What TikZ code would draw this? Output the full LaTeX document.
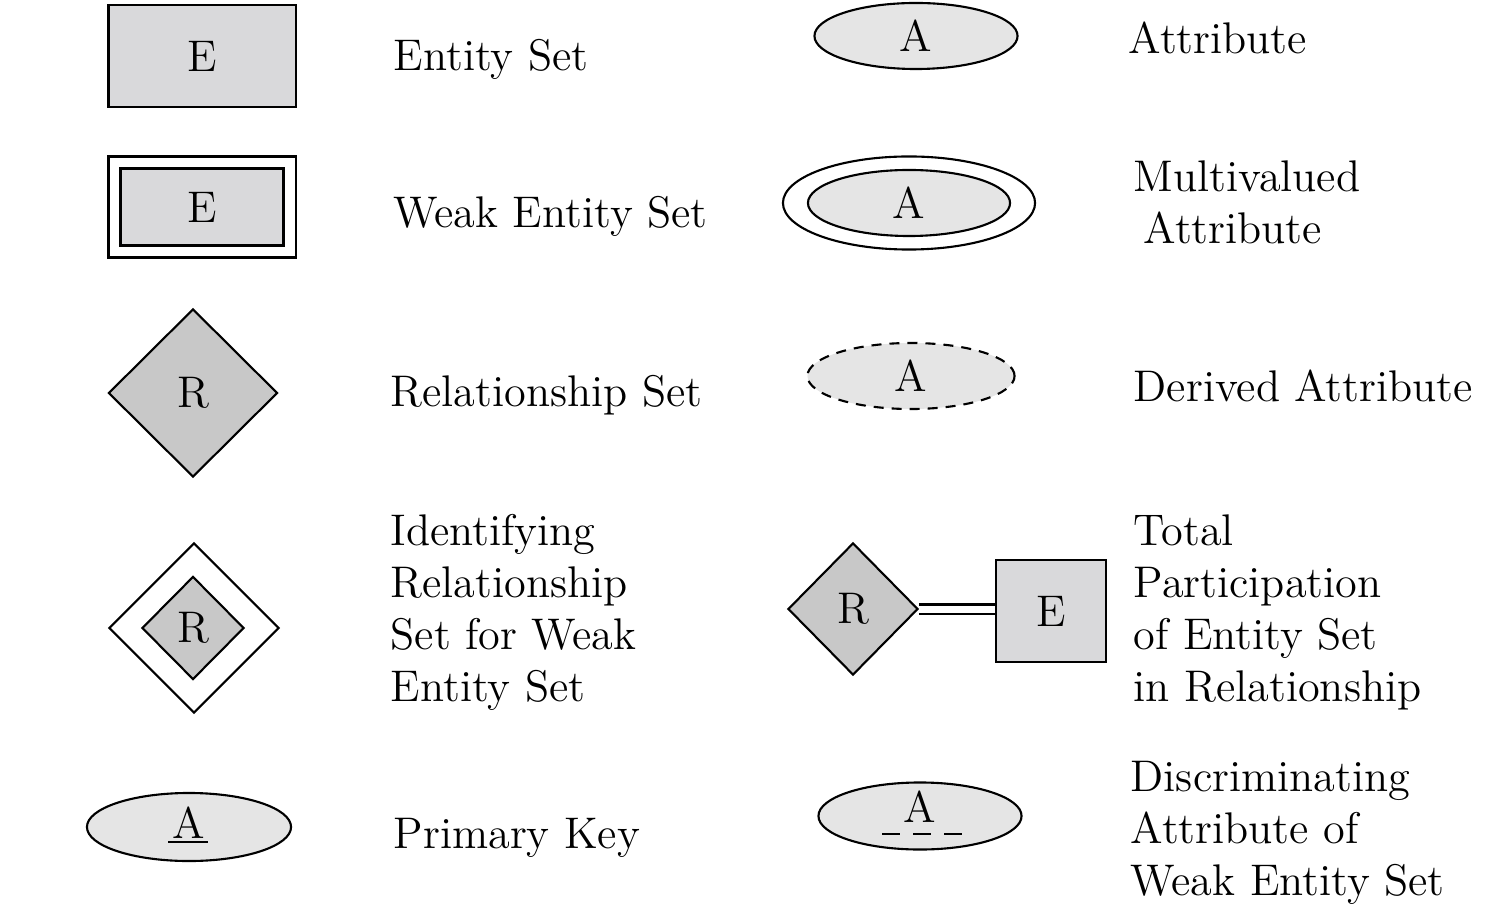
\documentclass[tikz,border=0pt]{standalone}
\usetikzlibrary{shapes.geometric}

\definecolor{entityfill}{RGB}{217,217,219}
\definecolor{relfill}{RGB}{200,200,200}
\definecolor{attrfill}{RGB}{229,229,229}

\begin{document}
\begin{tikzpicture}[x=0.01cm, y=-0.01cm,
	every node/.style={font=\fontsize{12.6}{14.8}\selectfont},
	entity/.style={draw, line width=0.6pt, fill=entityfill, rectangle, inner sep=0pt},
	rel/.style={draw, line width=0.6pt, fill=relfill, diamond, aspect=1, inner sep=0pt},
	attr/.style={draw, line width=0.6pt, fill=attrfill, ellipse, inner sep=0pt},
	label/.style={anchor=west, align=left, inner sep=0pt}]
	\useasboundingbox (0, 0) rectangle (1486, 907);

	% left column
	\node [entity, minimum width=1.87cm, minimum height=1.02cm] (es) at (202, 56) {E};
	\node [draw, line width=0.6pt, fill=white, minimum width=1.87cm, minimum height=1.01cm] (wesout) at (202, 207) {};
	\node [entity, minimum width=1.63cm, minimum height=0.77cm] (wes) at (202, 207) {E};
	\node [rel, minimum width=1.69cm, minimum height=1.68cm] (rs) at (193, 393) {R};
	\node [draw, line width=0.6pt, fill=white, diamond, aspect=1, minimum width=1.70cm, minimum height=1.70cm] (irsout) at (194, 628) {};
	\node [rel, minimum width=1.02cm, minimum height=1.03cm] (irs) at (193, 628) {R};
	\node [attr, minimum width=2.04cm, minimum height=0.68cm] (pk) at (189, 827) {};
	\node (pktext) at (189, 823) {A};
	\draw [line width=0.6pt] (168, 842) -- (208, 842);

	\node [label] (les) at (393, 59) {Entity Set};
	\node [label] (lwes) at (393, 216) {Weak Entity Set};
	\node [label] (lrs) at (390, 395) {Relationship Set};
	\node [label] (lirs) at (390, 612) {Identifying\\Relationship\\Set for Weak\\Entity Set};
	\node [label] (lpk) at (393, 838) {Primary Key};

	% right column
	\node [attr, minimum width=2.03cm, minimum height=0.66cm] (at) at (916, 36) {A};
	\node [draw, line width=0.6pt, fill=white, ellipse, minimum width=2.52cm, minimum height=0.93cm] (mvout) at (909, 203) {};
	\node [attr, minimum width=2.02cm, minimum height=0.66cm] (mv) at (909, 203) {A};
	\node [attr, dashed, dash pattern=on 0.1cm off 0.08cm, minimum width=2.07cm, minimum height=0.66cm] (da) at (911, 376) {A};
	\node [rel, minimum width=1.30cm, minimum height=1.32cm] (tr) at (853, 609) {R};
	\node [entity, minimum width=1.10cm, minimum height=1.02cm] (te) at (1051, 611) {E};
	\draw [double, line width=0.6pt, double distance=0.07cm] (tr.east) -- (te.west |- tr.east);
	\node [attr, minimum width=2.03cm, minimum height=0.67cm] (dsc) at (920, 816) {};
	\node (dsctext) at (920, 807) {A};
	\draw [line width=0.6pt, dash pattern=on 0.18cm off 0.13cm] (882, 834) -- (962, 834);

	\node [label] (lat) at (1128, 38) {Attribute};
	\node [label] (lmv) at (1133, 202) {Multivalued\\\hspace{0.1cm}Attribute};
	\node [label] (lda) at (1133, 386) {Derived Attribute};
	\node [label] (ltp) at (1133, 612) {Total\\Participation\\of Entity Set\\in Relationship};
	\node [label] (ldsc) at (1130, 833) {Discriminating\\Attribute of\\Weak Entity Set};
\end{tikzpicture}
\end{document}
